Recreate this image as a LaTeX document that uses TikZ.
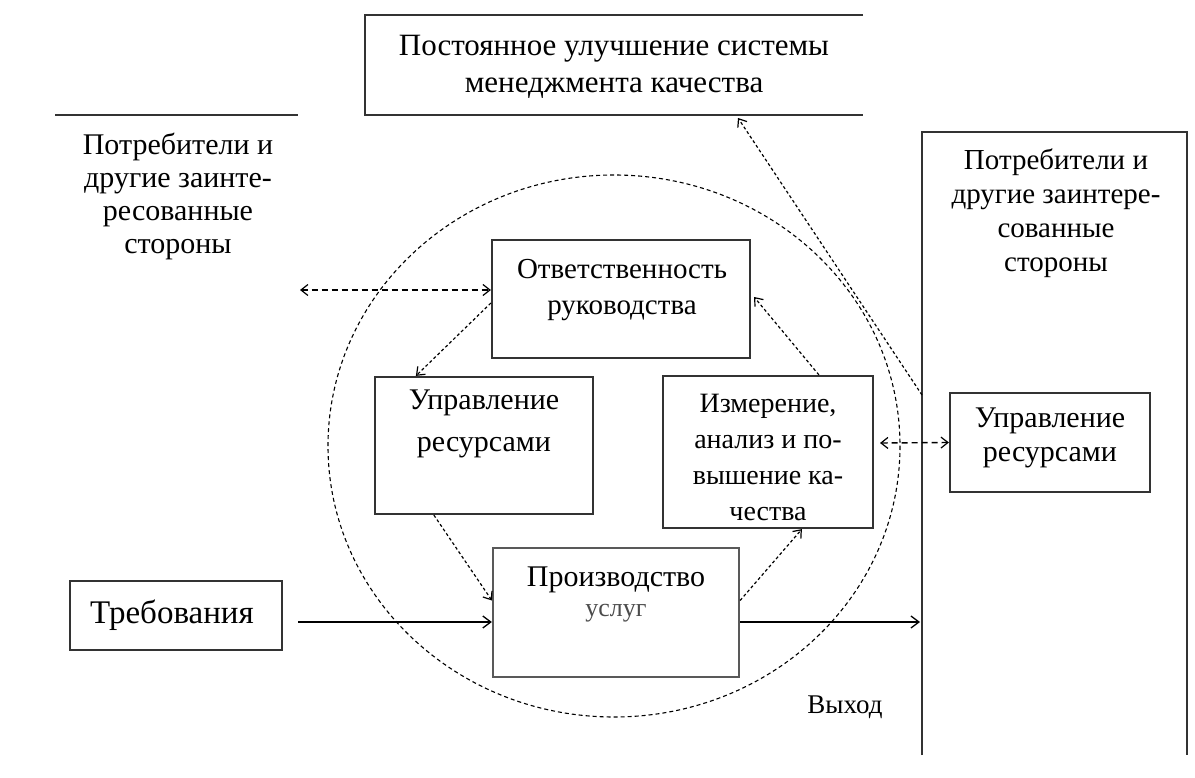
\documentclass[tikz,border=0pt]{standalone}
\usepackage{fontspec}
\setmainfont{Liberation Serif}
\usetikzlibrary{arrows.meta,calc}
\begin{document}
\begin{tikzpicture}[x=1pt,y=-1pt,
  box/.style={draw=black!80, line width=2.2pt, inner sep=0pt},
  lbl/.style={align=center, font=\fontsize{30}{34}\selectfont, inner sep=0pt},
  small/.style={align=center, font=\fontsize{26}{30}\selectfont, inner sep=0pt},
  solidarr/.style={line width=1.8pt, -{Straight Barb[length=8pt,width=12pt,line width=1.3pt]}},
  dotarr/.style={line width=1.2pt, dash pattern=on 3pt off 2.5pt, -{Straight Barb[length=7pt,width=11pt,line width=1.2pt]}},
  dasharr/.style={line width=1.4pt, dash pattern=on 6pt off 4pt, {Straight Barb[length=7pt,width=11pt,line width=1.2pt]}-{Straight Barb[length=7pt,width=11pt,line width=1.2pt]}}
]
\useasboundingbox (0,0) rectangle (1195,778);
\fill[white] (0,0) rectangle (1195,778);

% top box (open at right)
\draw[box] (863,15) -- (365,15) -- (365,115) -- (863,115);
\node[lbl, font=\fontsize{31}{37}\selectfont] (improve) at (614,67) {Постоянное улучшение системы\\менеджмента качества};

% left stakeholders
\draw[box] (55,115) coordinate (lline1) -- (298,115) coordinate (lline2);
\node[lbl, font=\fontsize{30}{33}\selectfont] (custL) at (178,196) {Потребители и\\другие заинте-\\ресованные\\стороны};

% right big box (open at bottom)
\draw[box] (922,755) -- (922,132) -- (1187,132) -- (1187,755);
\node[lbl, font=\fontsize{29}{34}\selectfont] (custR) at (1056,213) {Потребители и\\другие заинтере-\\сованные\\стороны};
\coordinate (bigL) at (922,395);

% dashed circle
\draw[line width=1.1pt, dash pattern=on 4pt off 3pt] (614,446) ellipse [x radius=286, y radius=271];

% inner boxes
\node[box, minimum width=258pt, minimum height=118pt] (resp) at (621,299) {};
\node[lbl, font=\fontsize{29}{36}\selectfont] (respT) at (622,290) {Ответственность\\руководства};

\node[box, minimum width=218pt, minimum height=137pt] (resL) at (484,445.5) {};
\node[lbl, font=\fontsize{30}{42}\selectfont] (resLT) at (484,424) {Управление\\ресурсами};

\node[box, minimum width=210pt, minimum height=152pt] (meas) at (768,452) {};
\node[lbl, font=\fontsize{28}{36}\selectfont] (measT) at (768,457) {Измерение,\\анализ и по-\\вышение ка-\\чества};

\node[box, minimum width=200pt, minimum height=99pt] (resR) at (1050,442.5) {};
\node[lbl, font=\fontsize{30}{34}\selectfont] (resRT) at (1050,438) {Управление\\ресурсами};

\node[box, minimum width=212pt, minimum height=69pt] (req) at (176,615.5) {};
\node[lbl, font=\fontsize{33}{36}\selectfont] (reqT) at (172,615) {Требования};

\node[box, draw=black!65, minimum width=246pt, minimum height=129pt] (prod) at (616,612.5) {};
\node[lbl] (prodT) at (616,580) {Производство};
\node[small, text=black!70] (prodT2) at (616,613) {услуг};

\node[small, font=\fontsize{27}{30}\selectfont] (out) at (845,707) {Выход};

% connectors
\coordinate (dl) at (300,290);
\draw[dasharr] (dl) -- ($(resp.west)+(0,-9)$);
\draw[dotarr] ($(resp.west)+(0,4)$) -- ($(resL.north west)+(42,0)$);
\draw[dotarr] ($(resL.south west)+(60,0)$) -- ($(prod.west)+(0,-12)$);
\draw[dotarr] ($(prod.east)+(0,-12)$) -- ($(meas.south west)+(140,0)$);
\draw[dotarr] ($(meas.north west)+(157,0)$) -- ($(resp.east)+(3,-2)$);
\draw[dotarr] (bigL) -- (738,118) coordinate (improveIn);
\coordinate (cr) at (880,443);
\draw[dasharr] (cr) -- (resR.west);
\coordinate (reqOut) at (298,622);
\draw[solidarr] (reqOut) -- ($(prod.west)+(0,9.5)$);
\coordinate (bigIn) at (920,622);
\draw[solidarr] ($(prod.east)+(0,9.5)$) -- (bigIn);
\end{tikzpicture}
\end{document}
